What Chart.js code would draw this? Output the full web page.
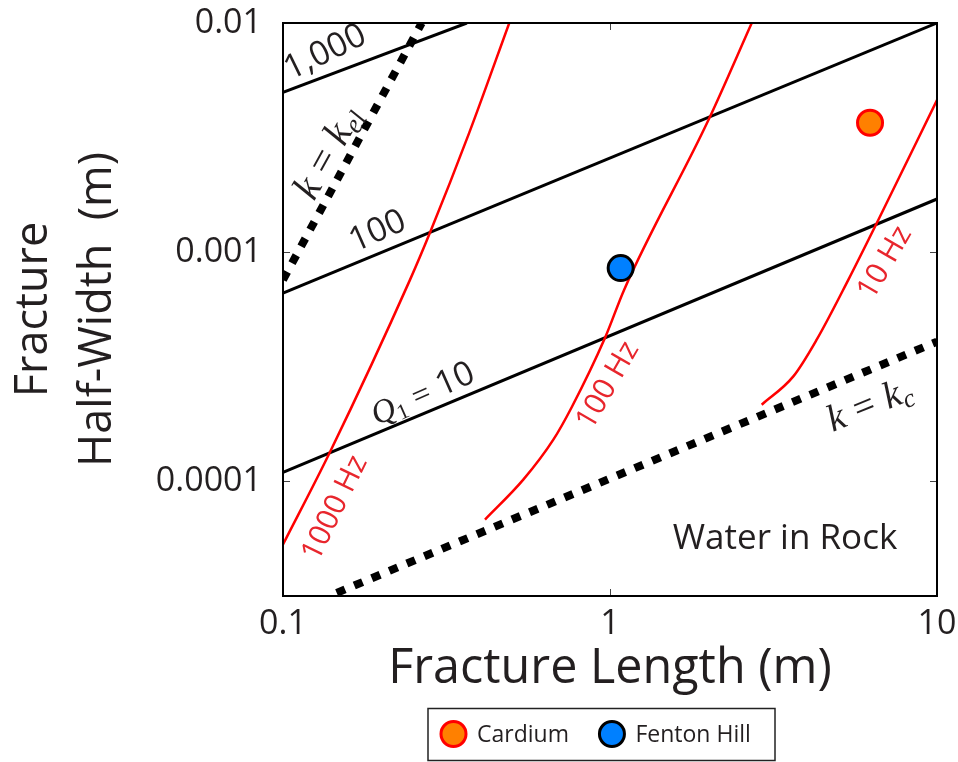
<!DOCTYPE html>
<html><head><meta charset="utf-8">
<script src="https://cdn.jsdelivr.net/npm/chart.js@4.4.1/dist/chart.umd.min.js"></script>
<style>html,body{margin:0;padding:0;background:#fff;}#wrap{width:958px;height:762px;}</style>
</head><body><div id="wrap"><canvas id="c" width="958" height="762"></canvas></div>
<script>
// ---- data ----
const xTicks = [0.1, 1, 10];
const xTickLabels = ['0.1', '1', '10'];
const yTicks = [0.0001, 0.001, 0.01];
const yTickLabels = ['0.0001', '0.001', '0.01'];

const seriesNames = ['Cardium', 'Fenton Hill'];
const cardiumXY = [[6.24, 3.67e-3]];
const fentonXY = [[1.078, 8.52e-4]];

// constant-Q lines (Q1 = 10, 100, 1000)
const q10 = [[0.1, 1.094e-4], [10, 1.706e-3]];
const q100 = [[0.1, 6.62e-4], [10, 1.0e-2]];
const q1000 = [[0.1, 4.98e-3], [0.365, 1.0e-2]];
// limits
const kEl = [[0.1, 7.57e-4], [0.2655, 1.0e-2]];
const kC = [[0.146, 3.26e-5], [10, 4.07e-4]];
// constant-frequency curves
const f1000 = [[0.1, 5.30e-5], [0.139, 1.336e-4], [0.2445, 7.57e-4], [0.2814, 1.215e-3], [0.371, 3.315e-3], [0.492, 1.0e-2]];
const f100 = [[0.4147, 6.81e-5], [0.543, 1.017e-4], [0.671, 1.52e-4], [0.765, 2.116e-4], [0.965, 4.22e-4], [1.105, 6.86e-4], [2.0, 3.77e-3], [2.713, 1.0e-2]];
const f10 = [[2.91, 2.16e-4], [3.636, 2.87e-4], [4.286, 4.15e-4], [5.355, 7.57e-4], [6.54, 1.337e-3], [10, 4.61e-3]];

// ---- styling / layout ----
const SANS = '"Open Sans", "Noto Sans", sans-serif';
const SERIF = '"Liberation Serif", "DejaVu Serif", serif';
const TXT = '#231f20';
const RED = '#ff0000';
const REDTXT = '#e8262d';

const annotations = [
  {size: 34, color: TXT, at: [0.1336, 7.6e-3], rot: -26, parts: [{t: '1,000', f: '34px ' + SANS}]},
  {size: 34, color: TXT, at: [0.1934, 1.26e-3], rot: -24, parts: [{t: '100', f: '34px ' + SANS}]},
  {size: 32, color: TXT, at: [0.2667, 2.44e-4], rot: -24, parts: [
    {t: 'Q', f: 'italic 33px ' + SERIF}, {t: '1', f: '22px ' + SERIF, dy: 5},
    {t: '=', f: '32px ' + SERIF, gap: 9}, {t: '10', f: '34px ' + SANS}]},
  {size: 40, color: TXT, at: [0.135, 2.756e-3], rot: -61, parts: [
    {t: 'k', f: 'italic 40px ' + SERIF}, {t: '=', f: '40px ' + SERIF, gap: 11},
    {t: 'k', f: 'italic 40px ' + SERIF}, {t: 'el', f: 'italic 27px ' + SERIF, dy: 6}]},
  {size: 38, color: TXT, at: [6.18, 2.206e-4], rot: -22, parts: [
    {t: 'k', f: 'italic 38px ' + SERIF}, {t: '=', f: '38px ' + SERIF, gap: 11},
    {t: 'k', f: 'italic 38px ' + SERIF}, {t: 'c', f: 'italic 26px ' + SERIF, dy: 6}]},
  {size: 30, color: REDTXT, at: [0.1422, 7.71e-5], rot: -64, parts: [{t: '1000 Hz', f: '30px ' + SANS}]},
  {size: 30, color: REDTXT, at: [0.972, 2.65e-4], rot: -60, parts: [{t: '100 Hz', f: '30px ' + SANS}]},
  {size: 30, color: REDTXT, at: [6.84, 9.11e-4], rot: -60, parts: [{t: '10 Hz', f: '30px ' + SANS}]},
  {size: 35, color: TXT, at: [3.43, 5.78e-5], rot: 0, parts: [{t: 'Water in Rock', f: '35px ' + SANS}]}
];

function pts(arr) { return arr.map(([x, y]) => ({x, y})); }
function lineDS(label, arr, color, width, dash, smooth) {
  const ds = {label, data: pts(arr), showLine: true, borderColor: color, backgroundColor: color,
    borderWidth: width, borderDash: dash || [], pointRadius: 0, pointHoverRadius: 0,
    tension: 0, clip: 0, fill: false};
  if (smooth) { ds.cubicInterpolationMode = 'monotone'; }
  return ds;
}

const annotPlugin = {
  id: 'annot',
  afterDatasetsDraw(chart) {
    const {ctx, scales: {x, y}} = chart;
    ctx.save();
    annotations.forEach(a => {
      const px = x.getPixelForValue(a.at[0]);
      const py = y.getPixelForValue(a.at[1]);
      ctx.save();
      ctx.translate(px, py);
      ctx.rotate(a.rot * Math.PI / 180);
      ctx.fillStyle = a.color;
      ctx.textBaseline = 'alphabetic';
      ctx.textAlign = 'left';
      let total = 0;
      a.parts.forEach(p => { ctx.font = p.f; p.w = ctx.measureText(p.t).width + 2 * (p.gap || 0); total += p.w; });
      let cx = -total / 2;
      const base = a.size * 0.36;
      a.parts.forEach(p => { ctx.font = p.f; ctx.fillText(p.t, cx + (p.gap || 0), base + (p.dy || 0)); cx += p.w; });
      ctx.restore();
    });
    ctx.restore();
  }
};

const frameTicks = {
  id: 'frameTicks',
  afterDatasetsDraw(chart) {
    const {ctx, chartArea: a, scales: {x, y}} = chart;
    ctx.save();
    ctx.strokeStyle = '#444';
    ctx.lineWidth = 1;
    ctx.beginPath();
    xTicks.forEach(v => {
      const p = Math.round(x.getPixelForValue(v)) + 0.5;
      ctx.moveTo(p, a.bottom); ctx.lineTo(p, a.bottom - 7);
      ctx.moveTo(p, a.top); ctx.lineTo(p, a.top + 7);
    });
    yTicks.forEach(v => {
      const p = Math.round(y.getPixelForValue(v)) + 0.5;
      ctx.moveTo(a.left, p); ctx.lineTo(a.left + 7, p);
      ctx.moveTo(a.right, p); ctx.lineTo(a.right - 7, p);
    });
    ctx.stroke();
    ctx.strokeStyle = '#000';
    ctx.lineWidth = 2;
    ctx.strokeRect(a.left, a.top, a.right - a.left, a.bottom - a.top);
    ctx.restore();
  }
};

const boxLegend = {
  id: 'boxLegend',
  afterDraw(chart) {
    const {ctx} = chart;
    const box = {l: 428, t: 708.5, r: 775, b: 760.5};
    const cy = (box.t + box.b) / 2 - 0.5;
    ctx.save();
    ctx.fillStyle = '#fff';
    ctx.fillRect(box.l, box.t, box.r - box.l, box.b - box.t);
    ctx.strokeStyle = '#222';
    ctx.lineWidth = 1.5;
    ctx.strokeRect(box.l, box.t, box.r - box.l, box.b - box.t);
    ctx.font = '23px ' + SANS;
    ctx.textBaseline = 'middle';
    ctx.textAlign = 'left';
    let xPos = box.l + 25.5;
    [0, 1].forEach(i => {
      const ds = chart.data.datasets[i];
      ctx.beginPath();
      ctx.arc(xPos, cy, 12.5, 0, Math.PI * 2);
      ctx.fillStyle = ds.pointBackgroundColor;
      ctx.fill();
      ctx.lineWidth = ds.pointBorderWidth;
      ctx.strokeStyle = ds.pointBorderColor;
      ctx.stroke();
      ctx.fillStyle = TXT;
      const tx = xPos + 23.5;
      ctx.fillText(ds.label, tx, cy + 1);
      xPos = tx + ctx.measureText(ds.label).width + 43;
    });
    ctx.restore();
  }
};

new Chart(document.getElementById('c'), {
  type: 'scatter',
  data: {
    datasets: [
      {label: seriesNames[0], data: pts(cardiumXY), pointRadius: 12.5, pointHoverRadius: 12.5,
        pointBackgroundColor: '#ff8000', pointBorderColor: '#ff0000', pointBorderWidth: 3, showLine: false, clip: false},
      {label: seriesNames[1], data: pts(fentonXY), pointRadius: 12.5, pointHoverRadius: 12.5,
        pointBackgroundColor: '#0080ff', pointBorderColor: '#000000', pointBorderWidth: 3, showLine: false, clip: false},
      lineDS('k = kel', kEl, '#000', 8, [9, 10]),
      lineDS('k = kc', kC, '#000', 8, [9, 10]),
      lineDS('1000 Hz', f1000, RED, 2.5, null, true),
      lineDS('100 Hz', f100, RED, 2.5, null, true),
      lineDS('10 Hz', f10, RED, 2.5, null, true),
      lineDS('Q1 = 1000', q1000, '#000', 3),
      lineDS('Q1 = 100', q100, '#000', 3),
      lineDS('Q1 = 10', q10, '#000', 3)
    ]
  },
  options: {
    responsive: false,
    animation: false,
    events: [],
    layout: {autoPadding: false, padding: {top: 23, right: 21, bottom: 0, left: 0}},
    plugins: {legend: {display: false}, tooltip: {enabled: false}},
    scales: {
      x: {
        type: 'logarithmic', min: 0.1, max: 10, position: 'bottom',
        grid: {display: false, drawTicks: false}, border: {display: false},
        afterBuildTicks: s => { s.ticks = xTicks.map(v => ({value: v})); },
        afterFit: s => { s.height = 166; s.paddingLeft = 0; s.paddingRight = 0; },
        ticks: {padding: 8, autoSkip: false, maxRotation: 0, color: TXT,
          font: {family: SANS, size: 34},
          callback: v => xTickLabels[xTicks.indexOf(v)]},
        title: {display: true, text: 'Fracture Length (m)', color: TXT,
          font: {family: SANS, size: 48.5}, padding: {top: 0, bottom: 64}}
      },
      y: {
        type: 'logarithmic', min: 3.16e-5, max: 0.01, position: 'left',
        grid: {display: false, drawTicks: false}, border: {display: false},
        afterBuildTicks: s => { s.ticks = yTicks.map(v => ({value: v})); },
        afterFit: s => { s.width = 283; s.paddingTop = 0; s.paddingBottom = 0; },
        ticks: {padding: 21, autoSkip: false, color: TXT,
          font: {family: SANS, size: 34},
          callback: v => yTickLabels[yTicks.indexOf(v)]},
        title: {display: true, text: ['Fracture', 'Half-Width  (m)'], color: TXT,
          font: {family: SANS, size: 45, lineHeight: 1.411}, padding: {top: 2.5, bottom: 0}}
      }
    }
  },
  plugins: [annotPlugin, frameTicks, boxLegend]
});
</script>
</body></html>
